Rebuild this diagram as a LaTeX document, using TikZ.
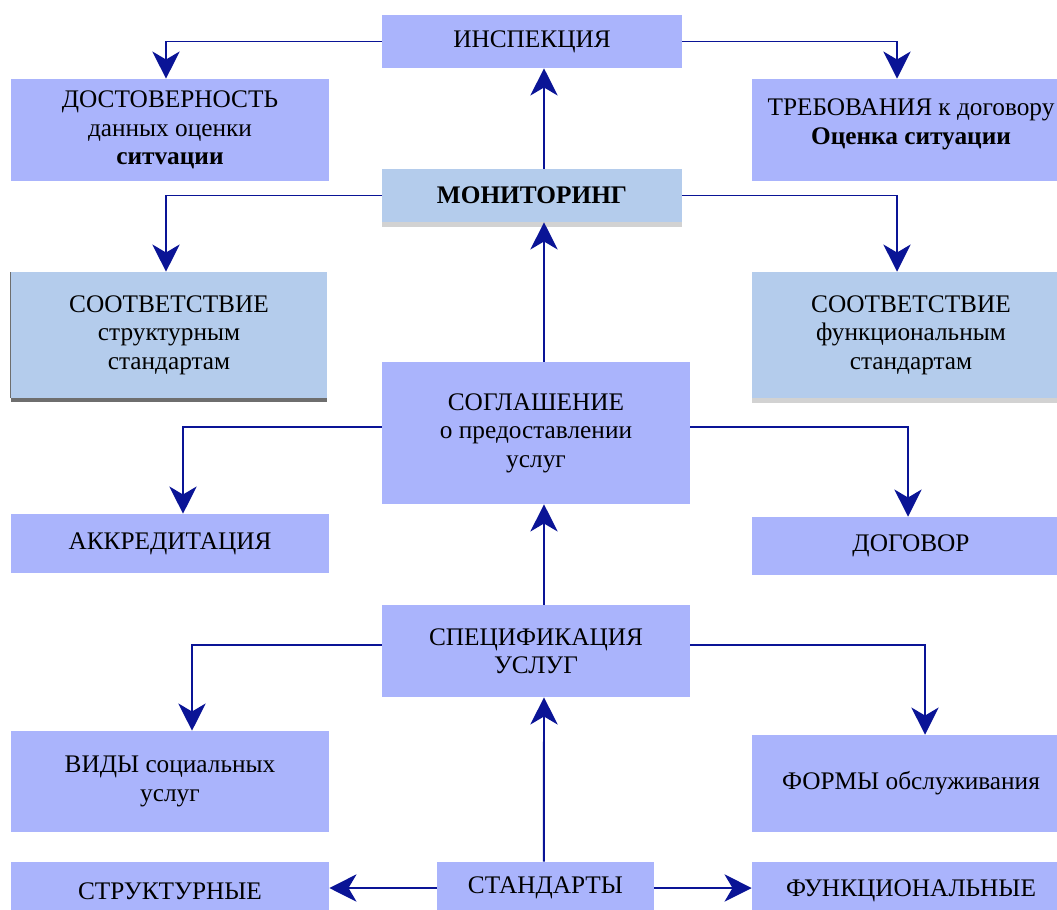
\documentclass[tikz,border=0pt]{standalone}
\usepackage{fontspec}
\setmainfont{Liberation Serif}
\usepackage{tikz}
\usetikzlibrary{shapes,arrows.meta}
\definecolor{periwinkle}{RGB}{170,180,252}
\definecolor{paleblue}{RGB}{180,204,236}
\definecolor{navyline}{RGB}{10,20,150}
\definecolor{shadelight}{RGB}{210,210,210}
\definecolor{shadedark}{RGB}{110,110,110}
\tikzset{%
  >={Stealth[width=6.8mm,length=6.8mm,inset=2mm]},
  % Specifications for style of nodes:
        base/.style = {rectangle, draw=none, inner sep=2pt,
                       minimum width=7.95cm, minimum height=1.45cm,
                       text centered, font=\fontsize{18}{20.2}\selectfont},
     violetbox/.style = {base, fill=periwinkle},
       palebox/.style = {base, fill=paleblue},
          link/.style = {->, line width=1.4pt, draw=navyline},
}

\begin{document}
\begin{tikzpicture}[node distance=1.5cm, align=center]
                    \clip (0,0) rectangle (26.425,-22.725);
                    \node (inspect)    [violetbox, minimum width=7.5cm, minimum height=1.325cm] at (13.3,-1.0375) {ИНСПЕКЦИЯ};
                    \node (monitor)    [palebox, node distance=3.85cm, below of=inspect, minimum width=7.5cm, minimum height=1.325cm] {\textbf{МОНИТОРИНГ}};
                    \node (agree)      [violetbox, node distance=5.9375cm, below of=monitor, xshift=0.1cm, minimum width=7.7cm, minimum height=3.55cm] {СОГЛАШЕНИЕ\\о предоставлении\\услуг};
                    \node (spec)       [violetbox, node distance=5.45cm, below of=agree, minimum width=7.7cm, minimum height=2.3cm] {СПЕЦИФИКАЦИЯ\\УСЛУГ};
                    \node (standards)  [violetbox, node distance=5.925cm, below of=spec, xshift=0.2375cm, minimum width=5.425cm, minimum height=1.3cm] {СТАНДАРТЫ};

                    \node (reliab)     [violetbox, node distance=9.05cm, left of=inspect, yshift=-2.2125cm, minimum height=2.55cm] {ДОСТОВЕРНОСТЬ\\данных оценки\\\textbf{ситvации}};
                    \node (require)    [violetbox, node distance=9.475cm, right of=inspect, yshift=-2.2125cm, minimum height=2.55cm] {ТРЕБОВАНИЯ к договору\\\textbf{Оценка ситуации}\\[-0.3cm]\mbox{}};
                    \node (structcomp) [palebox, node distance=9.075cm, left of=monitor, yshift=-3.4875cm, minimum width=7.9cm, minimum height=3.15cm] {СООТВЕТСТВИЕ\\структурным\\стандартам};
                    \node (funccomp)   [palebox, node distance=9.475cm, right of=monitor, yshift=-3.4875cm, minimum height=3.15cm] {СООТВЕТСТВИЕ\\функциональным\\стандартам};
                    \node (accred)     [violetbox, node distance=9.15cm, left of=agree, yshift=-2.7625cm, minimum height=1.475cm] {АККРЕДИТАЦИЯ};
                    \node (contract)   [violetbox, node distance=9.375cm, right of=agree, yshift=-2.825cm] {ДОГОВОР};
                    \node (kinds)      [violetbox, node distance=9.15cm, left of=spec, yshift=-3.2625cm, minimum height=2.525cm] {ВИДЫ социальных\\услуг};
                    \node (forms)      [violetbox, node distance=9.375cm, right of=spec, yshift=-3.3125cm, minimum height=2.425cm] {ФОРМЫ обслуживания};
                    \node (structural) [violetbox, node distance=9.3875cm, left of=standards, minimum height=1.45cm, yshift=-0.075cm] {СТРУКТУРНЫЕ};
                    \node (functional) [violetbox, node distance=9.1375cm, right of=standards, minimum height=1.45cm, yshift=-0.075cm] {ФУНКЦИОНАЛЬНЫЕ};

                    % shadows under the pale boxes
                    \fill[shadelight] (monitor.south west) rectangle ([yshift=-0.125cm]monitor.south east);
                    \fill[shadedark] (structcomp.south west) rectangle ([yshift=-0.1cm]structcomp.south east);
                    \draw[shadedark, line width=0.8pt] (structcomp.south west) -- (structcomp.north west);
                    \fill[shadelight] (funccomp.south west) rectangle ([yshift=-0.125cm]funccomp.south east);

                    \draw[link] (inspect.west) -| ([xshift=-0.1cm]reliab.north);
                    \draw[link] (inspect.east) -| ([xshift=-0.35cm]require.north);
                    \draw[link] ([xshift=0.3cm]monitor.north) -- ([xshift=0.3cm]inspect.south);
                    \draw[link] (monitor.west) -| ([xshift=-0.075cm]structcomp.north);
                    \draw[link] (monitor.east) -| ([xshift=-0.35cm]funccomp.north);
                    \draw[link] ([xshift=0.2cm]agree.north) -- ([xshift=0.3cm]monitor.south);
                    \draw[link] ([yshift=0.15cm]agree.west) -| ([xshift=0.325cm]accred.north);
                    \draw[link] ([yshift=0.15cm]agree.east) -| ([xshift=-0.075cm]contract.north);
                    \draw[link] ([xshift=0.2cm]spec.north) -- ([xshift=0.2cm]agree.south);
                    \draw[link] ([yshift=0.15cm]spec.west) -| ([xshift=0.55cm]kinds.north);
                    \draw[link] ([yshift=0.15cm]spec.east) -| ([xshift=0.35cm]forms.north);
                    \draw[link] ([xshift=-0.04cm]standards.north) -- ([xshift=0.2cm]spec.south);
                    \draw[link] (standards.west) -- (standards.west -| structural.east);
                    \draw[link] (standards.east) -- (standards.east -| functional.west);
\end{tikzpicture}
\end{document}
